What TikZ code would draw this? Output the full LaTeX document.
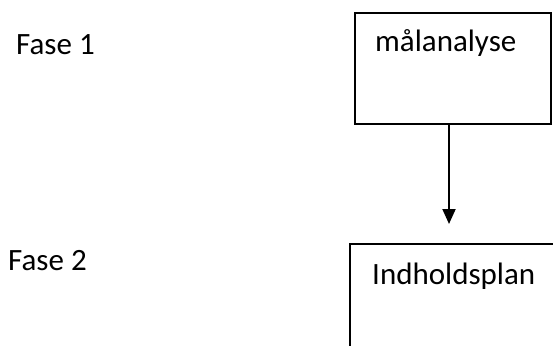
\documentclass[tikz,border=0pt]{standalone}
\usepackage{fontspec}
\setmainfont{Carlito}
\usetikzlibrary{arrows.meta}
\begin{document}
\begin{tikzpicture}[x=1pt,y=-1pt,
  lbl/.style={anchor=base west,inner sep=0pt,font=\fontsize{31}{37}\selectfont},
  box/.style={draw,line width=2pt,anchor=north west,inner sep=0pt},
  flow/.style={line width=2pt,-{Triangle[length=15pt,width=13pt]}}]
  \useasboundingbox (0,0) rectangle (553,345);
  \clip (0,0) rectangle (553,345);
  % phase labels
  \node[lbl] (f1) at (16,55) {Fase 1};
  \node[lbl] (f2) at (8,270) {Fase 2};
  % process boxes (the second runs off the page)
  \node[box,minimum width=196pt,minimum height=111pt] (b1) at (354,12) {};
  \node[box,minimum width=230pt,minimum height=130pt] (b2) at (349,243) {};
  \node[lbl] (t1) at (375,52) {målanalyse};
  \node[lbl] (t2) at (372,284) {Indholdsplan};
  % connector
  \coordinate (a1) at (449,123);
  \coordinate (a2) at (449,224);
  \draw[flow] (a1) -- (a2);
\end{tikzpicture}
\end{document}
